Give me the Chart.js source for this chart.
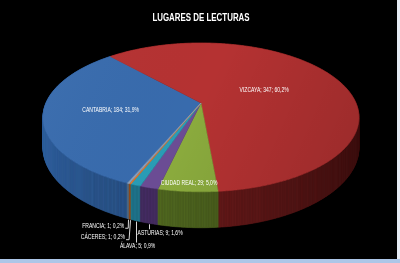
<!DOCTYPE html>
<html lang="es">
<head>
<meta charset="utf-8">
<title>Lugares de lecturas</title>
<script src="https://cdn.jsdelivr.net/npm/chart.js@4/dist/chart.umd.min.js"></script>
<style>
  html, body { margin: 0; padding: 0; }
  body { width: 400px; height: 263px; background: #e6ecf5; overflow: hidden; }
  #chart { display: block; background: #000; }
  .franja { width: 400px; height: 4px; background: #adc6e8; }
</style>
</head>
<body>
<canvas id="chart" width="397" height="259"></canvas>
<div class="franja"></div>
<script>
// ==================
//  DATOS
// ==================
const TITULO = "LUGARES DE LECTURAS";
const lugares = ["CANTABRIA", "VIZCAYA", "CIUDAD REAL", "ASTURIAS", "ÁLAVA", "CÁCERES", "FRANCIA"];
const lecturas = [184, 347, 29, 9, 5, 1, 1];

// colores: cara superior y pared lateral
const coloresCara = ["#386bad", "#b53232", "#8aaa3d", "#6b4c94", "#2a9cb5", "#e8792c", "#8aa2c0"];
const coloresPared = ["#30609e", "#852222", "#637f28", "#533676", "#268aa5", "#b05a1c", "#60809f"];

// donde va cada etiqueta (r = dentro de la cara, dx/dy = fuera, desde el pie de la pared)
const etiquetas = [
  { r: 0.58 },
  { r: 0.46 },
  { r: 0.92 },
  { dx: 11, dy: 10 },
  { dx: 2, dy: 26 },
  { dx: -5, dy: 18, align: "right" },
  { dx: -4, dy: 7, align: "right" },
];

// ==================
//  PERSPECTIVA 3D
// ==================
const INCLINACION = 0.462;
const PERSPECTIVA = 5.17;
const GROSOR = 29;
const ESTRECHO = 0.72; // la fuente original (Calibri) es más estrecha
const FUENTE = "'Liberation Sans', 'DejaVu Sans', sans-serif";

function proyectar(g, ang, r, h) {
  const X = Math.cos(ang) * r;
  const Z = Math.sin(ang) * r;
  const f = PERSPECTIVA / (PERSPECTIVA - Z);
  return { x: g.cx + g.R * X * f, y: g.cy + g.R * INCLINACION * Z * f + h * f };
}

function sombra(hex, k) {
  const n = parseInt(hex.slice(1), 16);
  const c = [(n >> 16) & 255, (n >> 8) & 255, n & 255].map((v) => Math.max(0, Math.min(255, Math.round(v * k))));
  return `rgb(${c[0]},${c[1]},${c[2]})`;
}

function porcentaje(v) {
  const total = lecturas.reduce((a, b) => a + b, 0);
  return (v / total * 100).toFixed(1).replace(".", ",") + "%";
}

// texto comprimido en horizontal
function textoEstrecho(ctx, texto, x, y, align) {
  ctx.save();
  ctx.translate(x, y);
  ctx.scale(ESTRECHO, 1);
  ctx.textAlign = align;
  ctx.fillText(texto, 0, 0);
  ctx.restore();
}

const pie3d = {
  id: "pie3d",
  beforeDatasetsDraw(chart) {
    const ctx = chart.ctx;
    const area = chart.chartArea;
    const arcos = chart.getDatasetMeta(0).data;
    const g = {
      cx: arcos[0].x,
      cy: arcos[0].y,
      R: (area.right - area.left) / 2,
    };
    const paso = Math.PI / 360;

    // --- paredes, de atrás hacia delante ---
    const trozos = [];
    arcos.forEach((a, i) => {
      const n = Math.max(1, Math.ceil((a.endAngle - a.startAngle) / paso));
      for (let k = 0; k < n; k++) {
        const a0 = a.startAngle + (a.endAngle - a.startAngle) * k / n;
        const a1 = a.startAngle + (a.endAngle - a.startAngle) * (k + 1) / n;
        trozos.push({ i, a0, a1, z: Math.sin((a0 + a1) / 2) });
      }
    });
    trozos.sort((p, q) => p.z - q.z);
    ctx.save();
    trozos.forEach((t) => {
      const m = (t.a0 + t.a1) / 2;
      const k = 0.42 + 0.58 * Math.pow((1 - Math.cos(m)) / 2, 0.8);
      const col = sombra(coloresPared[t.i], k);
      const p1 = proyectar(g, t.a0, 1, 0);
      const p2 = proyectar(g, t.a1, 1, 0);
      const p3 = proyectar(g, t.a1, 1, GROSOR);
      const p4 = proyectar(g, t.a0, 1, GROSOR);
      ctx.beginPath();
      ctx.moveTo(p1.x, p1.y);
      ctx.lineTo(p2.x, p2.y);
      ctx.lineTo(p3.x, p3.y);
      ctx.lineTo(p4.x, p4.y);
      ctx.closePath();
      ctx.fillStyle = col;
      ctx.strokeStyle = col;
      ctx.lineWidth = 0.6;
      ctx.fill();
      ctx.stroke();
    });

    // --- cara superior ---
    arcos.forEach((a, i) => {
      ctx.beginPath();
      ctx.moveTo(g.cx, g.cy);
      const n = Math.max(2, Math.ceil((a.endAngle - a.startAngle) / paso));
      for (let k = 0; k <= n; k++) {
        const p = proyectar(g, a.startAngle + (a.endAngle - a.startAngle) * k / n, 1, 0);
        ctx.lineTo(p.x, p.y);
      }
      ctx.closePath();
      ctx.fillStyle = coloresCara[i];
      ctx.strokeStyle = coloresCara[i];
      ctx.lineWidth = 0.5;
      ctx.fill();
      ctx.stroke();
    });

    // luz: un poco más clara arriba a la izquierda, más oscura a la derecha
    ctx.beginPath();
    for (let k = 0; k <= 720; k++) {
      const p = proyectar(g, k * paso, 1, 0);
      if (k === 0) ctx.moveTo(p.x, p.y); else ctx.lineTo(p.x, p.y);
    }
    ctx.closePath();
    const luz = ctx.createLinearGradient(area.left, area.top, area.right, area.bottom);
    luz.addColorStop(0, "rgba(255,255,255,0.03)");
    luz.addColorStop(0.5, "rgba(0,0,0,0)");
    luz.addColorStop(1, "rgba(0,0,0,0.14)");
    ctx.fillStyle = luz;
    ctx.fill();

    // --- etiquetas ---
    ctx.font = `7px ${FUENTE}`;
    ctx.fillStyle = "#ffffff";
    ctx.textBaseline = "middle";
    ctx.strokeStyle = "#d8d8d8";
    ctx.lineWidth = 1;
    arcos.forEach((a, i) => {
      const e = etiquetas[i];
      const texto = `${lugares[i]}; ${lecturas[i]}; ${porcentaje(lecturas[i])}`;
      const medio = (a.startAngle + a.endAngle) / 2;
      if (e.r !== undefined) {
        const p = proyectar(g, medio, e.r, 0);
        textoEstrecho(ctx, texto, p.x, p.y, "center");
        return;
      }
      const base = proyectar(g, medio, 1, GROSOR);
      const tx = base.x + e.dx;
      const ty = base.y + e.dy;
      ctx.beginPath();
      if (e.align === "right") {
        ctx.moveTo(Math.round(base.x) + 0.5, base.y + 1);
        ctx.lineTo(tx + 4, ty + 2.5);
        ctx.lineTo(tx + 1, ty + 2.5);
        ctx.stroke();
        textoEstrecho(ctx, texto, tx, ty, "right");
      } else {
        ctx.moveTo(Math.round(base.x) + 0.5, base.y + 1);
        ctx.lineTo(Math.round(base.x) + 0.5, ty - 4);
        ctx.stroke();
        textoEstrecho(ctx, texto, tx, ty, "center");
      }
    });

    // --- título ---
    ctx.font = `bold 11px ${FUENTE}`;
    textoEstrecho(ctx, TITULO, (area.left + area.right) / 2, 18, "center");
    ctx.restore();
    return false;
  },
};

// ==================
//  GRÁFICO
// ==================
new Chart(document.getElementById("chart"), {
  type: "pie",
  data: {
    labels: lugares,
    datasets: [{
      data: lecturas,
      backgroundColor: coloresCara,
      borderWidth: 0,
    }],
  },
  options: {
    responsive: false,
    animation: false,
    devicePixelRatio: 1,
    rotation: 203,
    layout: { padding: { left: 46, right: 41, top: 35, bottom: 88 } },
    plugins: {
      legend: { display: false },
      tooltip: { enabled: false },
    },
  },
  plugins: [pie3d],
});
</script>
</body>
</html>
